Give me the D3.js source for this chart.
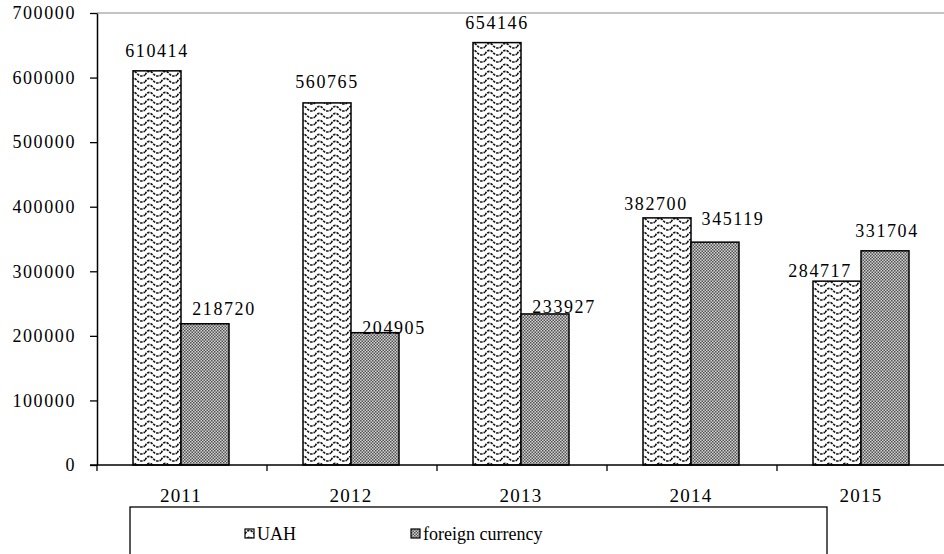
<!DOCTYPE html>
<html>
<head>
<meta charset="utf-8">
<script src="https://cdn.jsdelivr.net/npm/d3@7/dist/d3.min.js"></script>
<style>
  body { margin: 0; background: #fff; }
</style>
</head>
<body>
<svg id="chart"></svg>
<script>
const years = ['2011', '2012', '2013', '2014', '2015'];
const series = ['UAH', 'foreign currency'];
const uah = [610414, 560765, 654146, 382700, 284717];
const foreign = [218720, 204905, 233927, 345119, 331704];
const yTicks = [0, 100000, 200000, 300000, 400000, 500000, 600000, 700000];

const width = 944;
const height = 554;
const serif = '"Liberation Serif", "Times New Roman", serif';

const svg = d3.select('#chart')
    .attr('width', width)
    .attr('height', height)
    .style('font-family', serif);

const defs = svg.append('defs');

// wavy dashed lines for UAH
const wave = defs.append('pattern')
    .attr('id', 'wave')
    .attr('patternUnits', 'userSpaceOnUse')
    .attr('width', 16)
    .attr('height', 7);
wave.append('rect').attr('width', 16).attr('height', 7).attr('fill', '#fff');
wave.append('path')
    .attr('d', 'M0,5 C2.5,0.5 5.5,0.5 8,3.5 C10.5,6.5 13.5,6.5 16,5')
    .attr('fill', 'none')
    .attr('stroke', '#111')
    .attr('stroke-width', 1.6)
    .attr('stroke-dasharray', '2.5,1');

// fine checker for foreign currency
const checker = defs.append('pattern')
    .attr('id', 'checker')
    .attr('patternUnits', 'userSpaceOnUse')
    .attr('width', 3)
    .attr('height', 3);
checker.append('rect').attr('width', 3).attr('height', 3).attr('fill', '#d4d4d4');
checker.append('rect').attr('width', 1.5).attr('height', 1.5).attr('fill', '#505050');
checker.append('rect').attr('x', 1.5).attr('y', 1.5).attr('width', 1.5).attr('height', 1.5).attr('fill', '#505050');

const fills = { 'UAH': 'url(#wave)', 'foreign currency': 'url(#checker)' };

const x = d3.scaleBand().domain(years).range([97, 947]);
const xs = d3.scaleBand().domain(series).range([36, 132]);
const y = d3.scaleLinear().domain([0, 700000]).range([465, 13]);

// top border of plot area
svg.append('line')
    .attr('x1', 97).attr('x2', width)
    .attr('y1', y(700000)).attr('y2', y(700000))
    .attr('stroke', '#888').attr('stroke-width', 1.2);

const rows = years.map((yr, i) => ({ year: yr, values: [
    { key: 'UAH', value: uah[i] },
    { key: 'foreign currency', value: foreign[i] },
] }));

// hand-placed label nudges, as in the source chart
const nudge = {
    'UAH': [[0, -14], [0, -15], [0, -14], [-11, -8], [-17, -4]],
    'foreign currency': [[19, -9], [19, 1], [19, -1], [18, -17], [2, -14]],
};

const groups = svg.append('g')
    .selectAll('g')
    .data(rows)
    .join('g')
    .attr('transform', d => `translate(${x(d.year)},0)`);

groups.selectAll('rect')
    .data(d => d.values)
    .join('rect')
    .attr('x', d => xs(d.key))
    .attr('y', d => y(d.value))
    .attr('width', xs.bandwidth())
    .attr('height', d => y(0) - y(d.value))
    .attr('fill', d => fills[d.key])
    .attr('stroke', '#000')
    .attr('stroke-width', 1.5);

groups.each(function (d, i) {
    d3.select(this).selectAll('text.val')
        .data(d.values)
        .join('text')
        .attr('class', 'val')
        .attr('x', v => xs(v.key) + xs.bandwidth() / 2 + nudge[v.key][i][0])
        .attr('y', v => y(v.value) + nudge[v.key][i][1])
        .attr('text-anchor', 'middle')
        .style('font-family', serif)
        .style('font-size', '18px')
        .style('letter-spacing', '1.6px')
        .text(v => v.value);
});

// y axis
const yAxis = svg.append('g')
    .attr('transform', 'translate(97,0)')
    .call(d3.axisLeft(y).tickValues(yTicks).tickSize(7).tickSizeOuter(0).tickPadding(14).tickFormat(d3.format('d')));
yAxis.attr('font-family', null).attr('font-size', null);
yAxis.select('.domain').attr('stroke', '#000').attr('stroke-width', 1.5);
yAxis.selectAll('.tick line').attr('stroke', '#000').attr('stroke-width', 1.3);
yAxis.selectAll('.tick text')
    .attr('fill', '#000')
    .style('font-family', serif)
    .style('font-size', '18px')
    .style('letter-spacing', '1.6px');

// x axis
svg.append('line')
    .attr('x1', 90).attr('x2', width)
    .attr('y1', y(0)).attr('y2', y(0))
    .attr('stroke', '#000').attr('stroke-width', 1.5);

svg.append('g')
    .selectAll('line')
    .data(years.map(d => x(d)).concat([x.range()[1]]))
    .join('line')
    .attr('x1', d => d).attr('x2', d => d)
    .attr('y1', y(0)).attr('y2', y(0) + 6)
    .attr('stroke', '#000').attr('stroke-width', 1.3);

svg.append('g')
    .selectAll('text')
    .data(years)
    .join('text')
    .attr('x', d => x(d) + x.bandwidth() / 2 - 1)
    .attr('y', y(0) + 37)
    .attr('text-anchor', 'middle')
    .style('font-family', serif)
    .style('font-size', '19px')
    .style('letter-spacing', '1.2px')
    .text(d => d);

// legend
svg.append('rect')
    .attr('x', 130).attr('y', 507)
    .attr('width', 697).attr('height', 60)
    .attr('fill', '#fff')
    .attr('stroke', '#000').attr('stroke-width', 1.3);

const legendX = { 'UAH': 245, 'foreign currency': 411 };
const legend = svg.append('g')
    .selectAll('g')
    .data(series)
    .join('g')
    .attr('transform', d => `translate(${legendX[d]},529)`);

legend.append('rect')
    .attr('width', 9).attr('height', 9)
    .attr('fill', d => fills[d])
    .attr('stroke', '#000').attr('stroke-width', 1.2);

legend.append('text')
    .attr('x', 12).attr('y', 11)
    .style('font-family', serif)
    .style('font-size', '18px')
    .text(d => d);
</script>
</body>
</html>
